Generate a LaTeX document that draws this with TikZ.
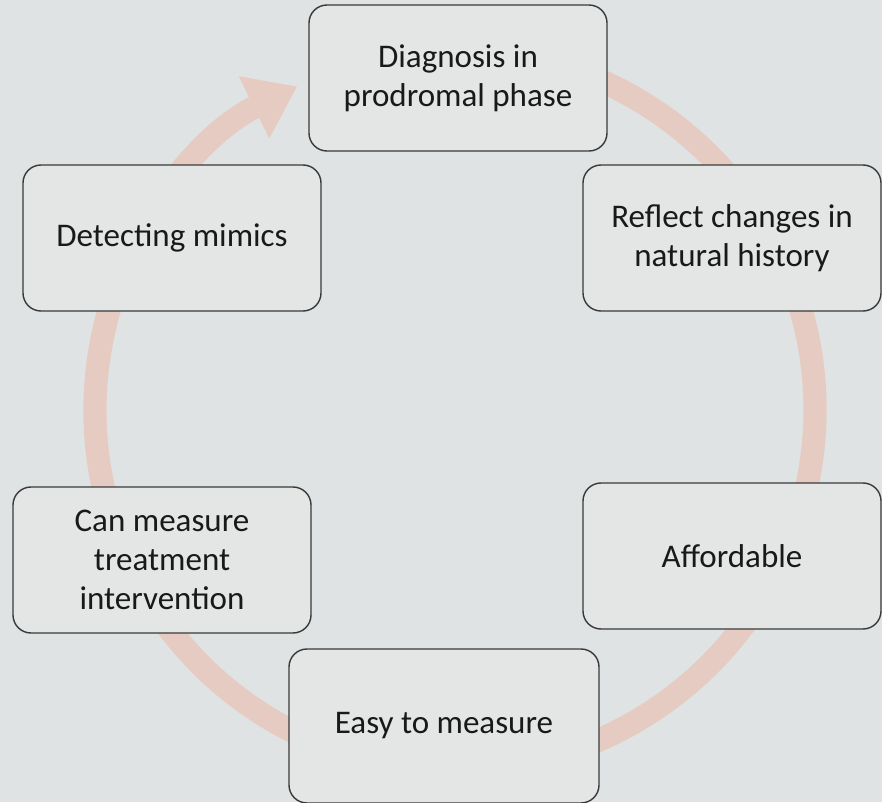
\documentclass[tikz,border=0pt]{standalone}
\usepackage{fontspec}
\setmainfont{Carlito}
\usepackage{tikz}
\usetikzlibrary{arrows.meta}

\definecolor{slidegray}{RGB}{224,227,227}
\definecolor{boxgray}{RGB}{228,230,230}
\definecolor{ringpeach}{RGB}{229,203,193}

\tikzset{
  stepbox/.style={draw=gray!45!black, line width=1pt, fill=boxgray,
    rounded corners=0.45cm, minimum width=7.45cm, minimum height=3.65cm,
    align=center, text=black!90, font=\fontsize{23.5}{28}\selectfont},
  ring/.style={ringpeach, line width=0.58cm,
    -{Triangle[width=1.65cm,length=1.2cm]}}
}

\begin{document}
\begin{tikzpicture}

% slide background
\fill[slidegray] (0,0) rectangle (22.05,20.05);
\useasboundingbox (0,0) rectangle (22.05,20.05);

% the cycle arrow, running clockwise
\draw[ring] (11.375,9.8) ++(80:9cm) arc (80:-244:9cm);

\node[stepbox] (diag)    at (11.45,18.1)  {Diagnosis in\\prodromal phase};
\node[stepbox] (reflect) at (18.3,14.1)   {Reflect changes in\\natural history};
\node[stepbox] (afford)  at (18.3,6.15)   {Affordable};
\node[stepbox, minimum width=7.75cm, minimum height=3.85cm]
               (easy)    at (11.1,1.9)    {Easy to measure};
\node[stepbox] (treat)   at (4.05,6.05)   {Can measure\\treatment\\intervention};
\node[stepbox] (mimics)  at (4.3,14.1)    {Detecting mimics};

\end{tikzpicture}
\end{document}
